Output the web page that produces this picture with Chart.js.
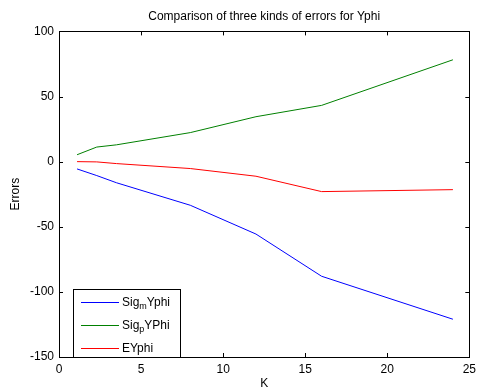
<!DOCTYPE html>
<html>
<head>
<meta charset="utf-8">
<script src="https://cdn.jsdelivr.net/npm/chart.js@4/dist/chart.umd.min.js"></script>
<style>
  html, body { margin: 0; padding: 0; background: #fff; }
  #wrap { width: 481px; height: 391px; }
</style>
</head>
<body>
<div id="wrap"><canvas id="err_chart" width="481" height="391"></canvas></div>
<script>
// values
const kValues = [1.1, 2.3, 3.5, 8, 12, 16, 24];
const sigmYphi = [-5.6, -10.7, -16.2, -33.5, -55.6, -88, -121];
const sigpYPhi = [5.3, 11.2, 12.9, 22.3, 34.5, 43.2, 78.2];
const eYphi = [0, -0.2, -1.5, -5.3, -11.2, -23, -21.5];

const xTicks = [0, 5, 10, 15, 20, 25];
const yTicks = [-150, -100, -50, 0, 50, 100];

const legendItems = [
  { base: 'Sig', sub: 'm', rest: 'Yphi', color: 'rgb(0, 0, 255)' },
  { base: 'Sig', sub: 'p', rest: 'YPhi', color: 'rgb(0, 128, 0)' },
  { base: 'EYphi', sub: '', rest: '', color: 'rgb(255, 0, 0)' }
];

const FONT = '"Liberation Sans", Arial, sans-serif';

const toPoints = (ys) => kValues.map((k, i) => ({ x: k, y: ys[i] }));

// box round the plot with inward ticks, matlab style
const frameTicks = {
  id: 'frameTicks',
  afterDatasetsDraw(chart) {
    const { ctx, chartArea: a, scales: { x, y } } = chart;
    ctx.save();
    ctx.strokeStyle = '#000';
    ctx.lineWidth = 1;
    ctx.strokeRect(Math.round(a.left) + 0.5, Math.round(a.top) + 0.5,
      Math.round(a.width), Math.round(a.height));
    ctx.beginPath();
    xTicks.forEach(v => {
      const px = Math.round(x.getPixelForValue(v)) + 0.5;
      ctx.moveTo(px, a.bottom); ctx.lineTo(px, a.bottom - 4);
      ctx.moveTo(px, a.top); ctx.lineTo(px, a.top + 4);
    });
    yTicks.forEach(v => {
      const py = Math.round(y.getPixelForValue(v)) + 0.5;
      ctx.moveTo(a.left, py); ctx.lineTo(a.left + 4, py);
      ctx.moveTo(a.right, py); ctx.lineTo(a.right - 4, py);
    });
    ctx.stroke();
    ctx.restore();
  }
};

// legend with subscripts, lower left corner
const subLegend = {
  id: 'subLegend',
  afterDraw(chart) {
    const { ctx, chartArea: a } = chart;
    const bx = 73.5, bw = 107, bh = 68;
    const by = Math.round(a.bottom) - bh + 0.5;
    ctx.save();
    ctx.fillStyle = '#fff';
    ctx.fillRect(bx, by, bw, bh);
    ctx.strokeStyle = '#000';
    ctx.lineWidth = 1;
    ctx.strokeRect(bx, by, bw, bh);
    legendItems.forEach((it, i) => {
      const ly = Math.round(by + 12 + i * 23) + 0.5;
      ctx.strokeStyle = it.color;
      ctx.beginPath();
      ctx.moveTo(81, ly); ctx.lineTo(119, ly);
      ctx.stroke();
      ctx.fillStyle = '#000';
      ctx.textBaseline = 'middle';
      ctx.font = '12px ' + FONT;
      let tx = 122;
      ctx.fillText(it.base, tx, ly);
      tx += ctx.measureText(it.base).width;
      if (it.sub) {
        ctx.font = '9px ' + FONT;
        ctx.fillText(it.sub, tx, ly + 4);
        tx += ctx.measureText(it.sub).width;
        ctx.font = '12px ' + FONT;
        ctx.fillText(it.rest, tx, ly);
      }
    });
    ctx.restore();
  }
};

const config = {
  type: 'line',
  data: {
    datasets: [
      { label: 'SigmYphi', data: toPoints(sigmYphi), borderColor: 'rgb(0, 0, 255)' },
      { label: 'SigpYPhi', data: toPoints(sigpYPhi), borderColor: 'rgb(0, 128, 0)' },
      { label: 'EYphi', data: toPoints(eYphi), borderColor: 'rgb(255, 0, 0)' }
    ]
  },
  options: {
    responsive: false,
    animation: false,
    devicePixelRatio: 1,
    layout: { padding: { left: 0, right: 7, top: 0, bottom: 0 } },
    elements: {
      line: { borderWidth: 1, tension: 0, fill: false },
      point: { radius: 0, hoverRadius: 0 }
    },
    plugins: {
      legend: { display: false },
      tooltip: { enabled: false },
      title: {
        display: true,
        fullSize: false,
        text: 'Comparison of three kinds of errors for Yphi',
        color: '#000',
        font: { family: FONT, size: 12, weight: 'normal' },
        padding: { top: 9, bottom: 8 }
      }
    },
    scales: {
      x: {
        type: 'linear',
        min: 0, max: 25,
        grid: { display: false, drawTicks: false },
        border: { display: false },
        afterBuildTicks: (s) => { s.ticks = xTicks.map(v => ({ value: v })); },
        afterFit: (s) => { s.height = 34; },
        ticks: { color: '#000', padding: 5, maxRotation: 0, font: { family: FONT, size: 12 } },
        title: { display: true, text: 'K', color: '#000', padding: 0, font: { family: FONT, size: 12 } }
      },
      y: {
        type: 'linear',
        min: -150, max: 100,
        grid: { display: false, drawTicks: false },
        border: { display: false },
        afterBuildTicks: (s) => { s.ticks = yTicks.map(v => ({ value: v })); },
        afterFit: (s) => { s.width = 59; },
        ticks: { color: '#000', padding: 5, font: { family: FONT, size: 12 } },
        title: { display: true, text: 'Errors', color: '#000', padding: { top: 8, bottom: 0 }, font: { family: FONT, size: 12 } }
      }
    }
  },
  plugins: [frameTicks, subLegend]
};

new Chart(document.getElementById('err_chart'), config);
</script>
</body>
</html>
